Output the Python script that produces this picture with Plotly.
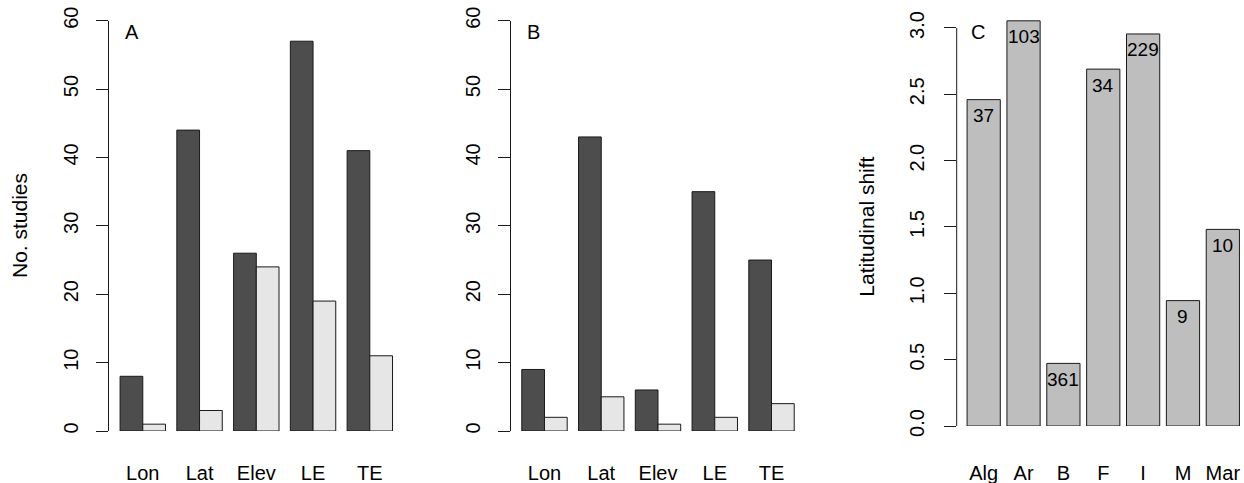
import plotly.graph_objects as go

# ---------------- data ----------------
cats_ab = ["Lon", "Lat", "Elev", "LE", "TE"]
a_dark = [8, 44, 26, 57, 41]
a_light = [1, 3, 24, 19, 11]
b_dark = [9, 43, 6, 35, 25]
b_light = [2, 5, 1, 2, 4]

cats_c = ["Alg", "Ar", "B", "F", "I", "M", "Mar"]
c_vals = [2.46, 3.054, 0.472, 2.69, 2.955, 0.945, 1.482]
c_counts = [37, 103, 361, 34, 229, 9, 10]

ticks_ab = [0, 10, 20, 30, 40, 50, 60]
ticks_c = [0.0, 0.5, 1.0, 1.5, 2.0, 2.5, 3.0]
ticktext_c = ["0.0", "0.5", "1.0", "1.5", "2.0", "2.5", "3.0"]

# ---------------- style ----------------
W, H = 1244, 483
FONT = "Liberation Sans, Arial, sans-serif"
FS_TICK = 20
FS_TITLE = 21
FS_COUNT = 19
DARK, LIGHT, GREY = "#4D4D4D", "#E6E6E6", "#BEBEBE"
LINE = "#1a1a1a"


def px(p):
    return p / W


def py(p):
    return 1 - p / H


fig = go.Figure()

outline = dict(color=LINE, width=1)
fig.add_trace(go.Bar(x=cats_ab, y=a_dark, marker=dict(color=DARK, line=outline),
                     xaxis="x", yaxis="y", offsetgroup="1", showlegend=False))
fig.add_trace(go.Bar(x=cats_ab, y=a_light, marker=dict(color=LIGHT, line=outline),
                     xaxis="x", yaxis="y", offsetgroup="2", showlegend=False))
fig.add_trace(go.Bar(x=cats_ab, y=b_dark, marker=dict(color=DARK, line=outline),
                     xaxis="x2", yaxis="y2", offsetgroup="1", showlegend=False))
fig.add_trace(go.Bar(x=cats_ab, y=b_light, marker=dict(color=LIGHT, line=outline),
                     xaxis="x2", yaxis="y2", offsetgroup="2", showlegend=False))
fig.add_trace(go.Bar(x=cats_c, y=c_vals, width=1 / 1.2,
                     marker=dict(color=GREY, line=outline),
                     xaxis="x3", yaxis="y3", showlegend=False))

# domains (pixel based)
dom_a = [px(109.3), px(403.3)]
dom_b = [px(511.0), px(805.0)]
dom_c = [px(956.7), 1.0]
ydom_ab = [py(431), py(20.7)]
ydom_c = [py(426), py(426 - 3.1 * 132.67)]

tickfont = dict(family=FONT, size=FS_TICK, color="black")

xcommon = dict(type="category", showline=False, ticks="", showgrid=False,
               zeroline=False, tickfont=tickfont, fixedrange=True, automargin=False)
ycommon = dict(showline=True, linecolor=LINE, linewidth=1, ticks="outside",
               ticklen=12, tickcolor=LINE, tickwidth=1, showgrid=False,
               zeroline=False, tickangle=-90, tickfont=tickfont, fixedrange=True,
               automargin=False)

fig.update_layout(
    width=W, height=H,
    autosize=False,
    margin=dict(l=0, r=0, t=0, b=0, pad=0, autoexpand=False),
    paper_bgcolor="white", plot_bgcolor="white",
    barmode="group", bargap=0.2, bargroupgap=0,
    font=dict(family=FONT, size=FS_TICK, color="black"),
    xaxis=dict(domain=dom_a, range=[-0.59, 4.59], anchor="y",
               ticklabelstandoff=28, **xcommon),
    xaxis2=dict(domain=dom_b, range=[-0.59, 4.59], anchor="y2",
                ticklabelstandoff=28, **xcommon),
    xaxis3=dict(domain=dom_c, range=[-0.677, 6.531], anchor="y3",
                ticklabelstandoff=33, **xcommon),
    yaxis=dict(domain=ydom_ab, range=[0, 60], anchor="x",
               tickvals=ticks_ab, ticklabelstandoff=10, **ycommon),
    yaxis2=dict(domain=ydom_ab, range=[0, 60], anchor="x2",
                tickvals=ticks_ab, ticklabelstandoff=10, **ycommon),
    yaxis3=dict(domain=ydom_c, range=[0, 3.1], anchor="x3",
                tickvals=ticks_c, ticktext=ticktext_c, ticklabelstandoff=12,
                **{**ycommon, "showline": False}),
)

# axis line for panel C spanning only the tick range (R style)
fig.add_shape(type="line", xref="x3 domain", x0=0, x1=0, yref="y3",
              y0=ticks_c[0], y1=ticks_c[-1], line=dict(color=LINE, width=1))

# count labels inside bars of panel C
for cat, v, n in zip(cats_c, c_vals, c_counts):
    fig.add_annotation(x=cat, y=v, xref="x3", yref="y3", text=str(n),
                       showarrow=False, yshift=-16, yanchor="middle",
                       font=dict(family=FONT, size=FS_COUNT, color="black"))

# panel letters
for letter, xp in [("A", 131.7), ("B", 533.3), ("C", 978.3)]:
    fig.add_annotation(x=px(xp), y=py(31.7), xref="paper", yref="paper",
                       text=letter, showarrow=False, xanchor="center",
                       yanchor="middle", font=dict(family=FONT, size=FS_TICK))

# y-axis titles
fig.add_annotation(x=px(20), y=py(226), xref="paper", yref="paper",
                   text="No. studies", textangle=-90, showarrow=False,
                   xanchor="center", yanchor="middle",
                   font=dict(family=FONT, size=FS_TITLE))
fig.add_annotation(x=px(866.7), y=py(227), xref="paper", yref="paper",
                   text="Latitudinal shift", textangle=-90, showarrow=False,
                   xanchor="center", yanchor="middle",
                   font=dict(family=FONT, size=FS_TITLE))

fig.write_html("out.html", config={"displayModeBar": False},
               post_script="document.body.style.margin='0';"
                           "document.body.style.overflow='hidden';")
